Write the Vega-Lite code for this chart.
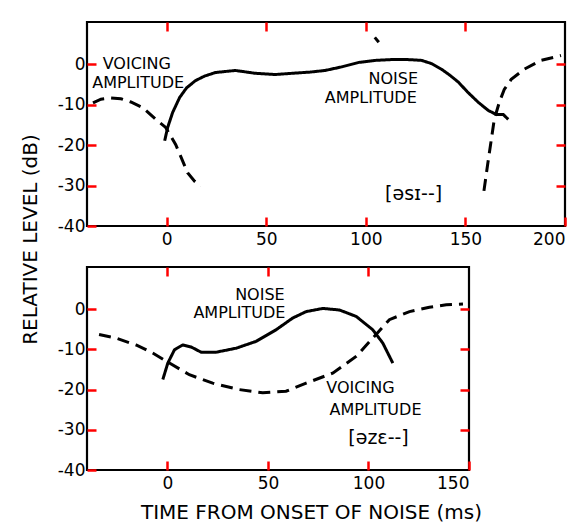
{
  "$schema": "https://vega.github.io/schema/vega-lite/v6.json",
  "background": "white",
  "padding": {"left": 18, "top": 19, "right": 5, "bottom": 8},
  "config": {
    "view": {"stroke": "black", "strokeWidth": 2.2},
    "axis": {"grid": false, "domain": false, "labelColor": "black", "titleColor": "black"}
  },
  "datasets": {
    "curves": [
      {"panel": "top", "curve": "noise", "part": 1, "t": -1, "db": -18.9},
      {"panel": "top", "curve": "noise", "part": 1, "t": 0.5, "db": -15.6},
      {"panel": "top", "curve": "noise", "part": 1, "t": 3, "db": -11.9},
      {"panel": "top", "curve": "noise", "part": 1, "t": 6.5, "db": -8.2},
      {"panel": "top", "curve": "noise", "part": 1, "t": 10, "db": -5.8},
      {"panel": "top", "curve": "noise", "part": 1, "t": 14.5, "db": -4},
      {"panel": "top", "curve": "noise", "part": 1, "t": 19, "db": -2.9},
      {"panel": "top", "curve": "noise", "part": 1, "t": 24.5, "db": -2},
      {"panel": "top", "curve": "noise", "part": 1, "t": 34.5, "db": -1.5},
      {"panel": "top", "curve": "noise", "part": 1, "t": 44.5, "db": -2.2},
      {"panel": "top", "curve": "noise", "part": 1, "t": 54.5, "db": -2.5},
      {"panel": "top", "curve": "noise", "part": 1, "t": 63, "db": -2.2},
      {"panel": "top", "curve": "noise", "part": 1, "t": 72, "db": -1.9},
      {"panel": "top", "curve": "noise", "part": 1, "t": 79.5, "db": -1.5},
      {"panel": "top", "curve": "noise", "part": 1, "t": 88, "db": -0.6},
      {"panel": "top", "curve": "noise", "part": 1, "t": 96.5, "db": 0.5},
      {"panel": "top", "curve": "noise", "part": 1, "t": 105, "db": 1},
      {"panel": "top", "curve": "noise", "part": 1, "t": 113, "db": 1.2},
      {"panel": "top", "curve": "noise", "part": 1, "t": 121, "db": 1.2},
      {"panel": "top", "curve": "noise", "part": 1, "t": 128, "db": 1},
      {"panel": "top", "curve": "noise", "part": 1, "t": 133, "db": 0.2},
      {"panel": "top", "curve": "noise", "part": 1, "t": 138, "db": -1.2},
      {"panel": "top", "curve": "noise", "part": 1, "t": 142, "db": -2.6},
      {"panel": "top", "curve": "noise", "part": 1, "t": 146.5, "db": -4.4},
      {"panel": "top", "curve": "noise", "part": 1, "t": 151, "db": -6.8},
      {"panel": "top", "curve": "noise", "part": 1, "t": 156.5, "db": -9.4},
      {"panel": "top", "curve": "noise", "part": 1, "t": 161.5, "db": -11.4},
      {"panel": "top", "curve": "noise", "part": 1, "t": 165.5, "db": -12.4},
      {"panel": "top", "curve": "noise", "part": 1, "t": 169, "db": -12.4},
      {"panel": "top", "curve": "noise", "part": 1, "t": 171.5, "db": -13.6},
      {"panel": "top", "curve": "voicing", "part": 1, "t": -37, "db": -9.5},
      {"panel": "top", "curve": "voicing", "part": 1, "t": -33, "db": -8.6},
      {"panel": "top", "curve": "voicing", "part": 1, "t": -28, "db": -8.3},
      {"panel": "top", "curve": "voicing", "part": 1, "t": -23, "db": -8.5},
      {"panel": "top", "curve": "voicing", "part": 1, "t": -18, "db": -9.3},
      {"panel": "top", "curve": "voicing", "part": 1, "t": -12, "db": -10.7},
      {"panel": "top", "curve": "voicing", "part": 1, "t": -5.5, "db": -13.6},
      {"panel": "top", "curve": "voicing", "part": 1, "t": -0.5, "db": -15.6},
      {"panel": "top", "curve": "voicing", "part": 1, "t": 4.5, "db": -19.8},
      {"panel": "top", "curve": "voicing", "part": 1, "t": 7, "db": -22.7},
      {"panel": "top", "curve": "voicing", "part": 1, "t": 10.5, "db": -26.8},
      {"panel": "top", "curve": "voicing", "part": 1, "t": 14, "db": -28.9},
      {"panel": "top", "curve": "voicing", "part": 1, "t": 17, "db": -30.2},
      {"panel": "top", "curve": "voicing", "part": 2, "t": 159.3, "db": -31.3},
      {"panel": "top", "curve": "voicing", "part": 2, "t": 161.3, "db": -24.3},
      {"panel": "top", "curve": "voicing", "part": 2, "t": 163, "db": -18.6},
      {"panel": "top", "curve": "voicing", "part": 2, "t": 164.5, "db": -13.6},
      {"panel": "top", "curve": "voicing", "part": 2, "t": 167, "db": -9.4},
      {"panel": "top", "curve": "voicing", "part": 2, "t": 169.5, "db": -6.2},
      {"panel": "top", "curve": "voicing", "part": 2, "t": 173, "db": -3.7},
      {"panel": "top", "curve": "voicing", "part": 2, "t": 179.5, "db": -1.2},
      {"panel": "top", "curve": "voicing", "part": 2, "t": 188, "db": 1.0},
      {"panel": "top", "curve": "voicing", "part": 2, "t": 198, "db": 2.2},
      {"panel": "top", "curve": "voicing", "part": 3, "t": 104.5, "db": 6.7},
      {"panel": "top", "curve": "voicing", "part": 3, "t": 106.5, "db": 5.5},
      {"panel": "bottom", "curve": "noise", "part": 1, "t": -2.3, "db": -17.5},
      {"panel": "bottom", "curve": "noise", "part": 1, "t": 0.2, "db": -13.4},
      {"panel": "bottom", "curve": "noise", "part": 1, "t": 3.5, "db": -10.1},
      {"panel": "bottom", "curve": "noise", "part": 1, "t": 7.6, "db": -8.9},
      {"panel": "bottom", "curve": "noise", "part": 1, "t": 11.8, "db": -9.4},
      {"panel": "bottom", "curve": "noise", "part": 1, "t": 16.8, "db": -10.7},
      {"panel": "bottom", "curve": "noise", "part": 1, "t": 24.2, "db": -10.7},
      {"panel": "bottom", "curve": "noise", "part": 1, "t": 34.2, "db": -9.7},
      {"panel": "bottom", "curve": "noise", "part": 1, "t": 44.1, "db": -8},
      {"panel": "bottom", "curve": "noise", "part": 1, "t": 54.1, "db": -5.1},
      {"panel": "bottom", "curve": "noise", "part": 1, "t": 62.3, "db": -2.2},
      {"panel": "bottom", "curve": "noise", "part": 1, "t": 69, "db": -0.6},
      {"panel": "bottom", "curve": "noise", "part": 1, "t": 77.3, "db": 0.2},
      {"panel": "bottom", "curve": "noise", "part": 1, "t": 85.6, "db": -0.2},
      {"panel": "bottom", "curve": "noise", "part": 1, "t": 93.9, "db": -1.8},
      {"panel": "bottom", "curve": "noise", "part": 1, "t": 102.1, "db": -5.1},
      {"panel": "bottom", "curve": "noise", "part": 1, "t": 107.1, "db": -8.4},
      {"panel": "bottom", "curve": "noise", "part": 1, "t": 112.1, "db": -13.4},
      {"panel": "bottom", "curve": "voicing", "part": 1, "t": -34, "db": -6.3},
      {"panel": "bottom", "curve": "voicing", "part": 1, "t": -25.5, "db": -7.2},
      {"panel": "bottom", "curve": "voicing", "part": 1, "t": -15.6, "db": -8.9},
      {"panel": "bottom", "curve": "voicing", "part": 1, "t": -7.3, "db": -10.9},
      {"panel": "bottom", "curve": "voicing", "part": 1, "t": 1, "db": -13.4},
      {"panel": "bottom", "curve": "voicing", "part": 1, "t": 10.9, "db": -16.3},
      {"panel": "bottom", "curve": "voicing", "part": 1, "t": 22.5, "db": -18.4},
      {"panel": "bottom", "curve": "voicing", "part": 1, "t": 35.8, "db": -20},
      {"panel": "bottom", "curve": "voicing", "part": 1, "t": 47.4, "db": -20.8},
      {"panel": "bottom", "curve": "voicing", "part": 1, "t": 59, "db": -20.4},
      {"panel": "bottom", "curve": "voicing", "part": 1, "t": 69, "db": -18.4},
      {"panel": "bottom", "curve": "voicing", "part": 1, "t": 82.2, "db": -15.9},
      {"panel": "bottom", "curve": "voicing", "part": 1, "t": 94, "db": -11.7},
      {"panel": "bottom", "curve": "voicing", "part": 1, "t": 102.1, "db": -7.2},
      {"panel": "bottom", "curve": "voicing", "part": 1, "t": 110.4, "db": -2.6},
      {"panel": "bottom", "curve": "voicing", "part": 1, "t": 120.4, "db": -0.6},
      {"panel": "bottom", "curve": "voicing", "part": 1, "t": 130.3, "db": 0.5},
      {"panel": "bottom", "curve": "voicing", "part": 1, "t": 138.7, "db": 1.1},
      {"panel": "bottom", "curve": "voicing", "part": 1, "t": 147, "db": 1.3}
    ],
    "labels": [
      {"panel": "top", "type": "label", "t": -15, "db": 0.2, "text": "VOICING"},
      {"panel": "top", "type": "label", "t": -14.3, "db": -4.5, "text": "AMPLITUDE"},
      {"panel": "top", "type": "label", "t": 113.8, "db": -3.7, "text": "NOISE"},
      {"panel": "top", "type": "label", "t": 102.5, "db": -8.2, "text": "AMPLITUDE"},
      {"panel": "top", "type": "phonetic", "t": 124, "db": -32, "text": "[əsɪ--]"},
      {"panel": "bottom", "type": "label", "t": 46, "db": 3.6, "text": "NOISE"},
      {"panel": "bottom", "type": "label", "t": 35.8, "db": -1, "text": "AMPLITUDE"},
      {"panel": "bottom", "type": "label", "t": 96, "db": -19.5, "text": "VOICING"},
      {"panel": "bottom", "type": "label", "t": 103.5, "db": -25, "text": "AMPLITUDE"},
      {"panel": "bottom", "type": "phonetic", "t": 105, "db": -32, "text": "[əzɛ--]"}
    ]
  },
  "bounds": "flush",
  "spacing": 41,
  "vconcat": [
    {
      "width": 478,
      "height": 204,
      "resolve": {"axis": {"x": "independent", "y": "independent"}},
      "layer": [
        {
          "data": {"name": "curves"},
          "transform": [{"filter": "datum.panel === 'top'"}],
          "mark": {"type": "line", "strokeWidth": 3, "color": "black"},
          "encoding": {
            "x": {"field": "t", "type": "quantitative",
              "scale": {"domain": [-40, 200], "nice": false, "zero": false},
              "axis": {"values": [0, 50, 100, 150, 200], "offset": -9, "tickSize": 9, "tickColor": "red", "tickWidth": 2.5, "labelPadding": 5, "labelExpr": "'' + datum.value", "labelFont": "DejaVu Sans", "labelFontSize": 17, "title": null}},
            "y": {"field": "db", "type": "quantitative",
              "scale": {"domain": [-40, 10.5], "nice": false, "zero": false},
              "axis": {"values": [-40, -30, -20, -10, 0], "offset": -9, "tickSize": 9, "tickColor": "red", "tickWidth": 2.5, "labelPadding": 2, "labelExpr": "'' + datum.value", "labelFont": "DejaVu Sans", "labelFontSize": 17,
                "title": "RELATIVE LEVEL (dB)", "titleFont": "DejaVu Sans", "titleFontSize": 20, "titleFontWeight": "normal", "titleX": -66, "titleY": 217, "titleAlign": "center", "titleBaseline": "middle", "titleAngle": -90}},
            "detail": {"field": "part", "type": "nominal"},
            "strokeDash": {"field": "curve", "type": "nominal",
              "scale": {"domain": ["noise", "voicing"], "range": [[1, 0], [12, 7]]}, "legend": null}
          }
        },
        {
          "data": {"name": "labels"},
          "transform": [{"filter": "datum.panel === 'top'"}],
          "mark": {"type": "text", "font": "DejaVu Sans", "align": "center", "baseline": "middle", "color": "black"},
          "encoding": {
            "x": {"field": "t", "type": "quantitative",
              "axis": {"orient": "top", "values": [0, 50, 100, 150], "offset": -9, "tickSize": 9, "tickColor": "red", "tickWidth": 2.5, "labels": false, "title": null}},
            "y": {"field": "db", "type": "quantitative",
              "axis": {"orient": "right", "values": [-30, -20, -10, 0], "offset": -9, "tickSize": 9, "tickColor": "red", "tickWidth": 2.5, "labels": false, "title": null}},
            "size": {"field": "type", "type": "nominal", "scale": {"domain": ["label", "phonetic"], "range": [16, 19]}, "legend": null},
            "text": {"field": "text"}
          }
        }
      ]
    },
    {
      "width": 382,
      "height": 203,
      "resolve": {"axis": {"x": "independent", "y": "independent"}},
      "layer": [
        {
          "data": {"name": "curves"},
          "transform": [{"filter": "datum.panel === 'bottom'"}],
          "mark": {"type": "line", "strokeWidth": 3, "color": "black"},
          "encoding": {
            "x": {"field": "t", "type": "quantitative",
              "scale": {"domain": [-40, 150], "nice": false, "zero": false},
              "axis": {"values": [0, 50, 100, 150], "offset": -9, "tickSize": 9, "tickColor": "red", "tickWidth": 2.5, "labelPadding": 5, "labelExpr": "'' + datum.value", "labelFont": "DejaVu Sans", "labelFontSize": 17,
                "title": "TIME FROM ONSET OF NOISE (ms)", "titleFont": "DejaVu Sans", "titleFontSize": 20, "titleFontWeight": "normal", "titleX": 224, "titleY": 51, "titleAlign": "center", "titleBaseline": "middle"}},
            "y": {"field": "db", "type": "quantitative",
              "scale": {"domain": [-40, 10.5], "nice": false, "zero": false},
              "axis": {"values": [-40, -30, -20, -10, 0], "offset": -9, "tickSize": 9, "tickColor": "red", "tickWidth": 2.5, "labelPadding": 2, "labelExpr": "'' + datum.value", "labelFont": "DejaVu Sans", "labelFontSize": 17, "title": null}},
            "detail": {"field": "part", "type": "nominal"},
            "strokeDash": {"field": "curve", "type": "nominal",
              "scale": {"domain": ["noise", "voicing"], "range": [[1, 0], [12, 7]]}, "legend": null}
          }
        },
        {
          "data": {"name": "labels"},
          "transform": [{"filter": "datum.panel === 'bottom'"}],
          "mark": {"type": "text", "font": "DejaVu Sans", "align": "center", "baseline": "middle", "color": "black"},
          "encoding": {
            "x": {"field": "t", "type": "quantitative",
              "axis": {"orient": "top", "values": [0, 50, 100], "offset": -9, "tickSize": 9, "tickColor": "red", "tickWidth": 2.5, "labels": false, "title": null}},
            "y": {"field": "db", "type": "quantitative",
              "axis": {"orient": "right", "values": [-30, -20, -10, 0], "offset": -9, "tickSize": 9, "tickColor": "red", "tickWidth": 2.5, "labels": false, "title": null}},
            "size": {"field": "type", "type": "nominal", "scale": {"domain": ["label", "phonetic"], "range": [16, 19]}, "legend": null},
            "text": {"field": "text"}
          }
        }
      ]
    }
  ]
}
